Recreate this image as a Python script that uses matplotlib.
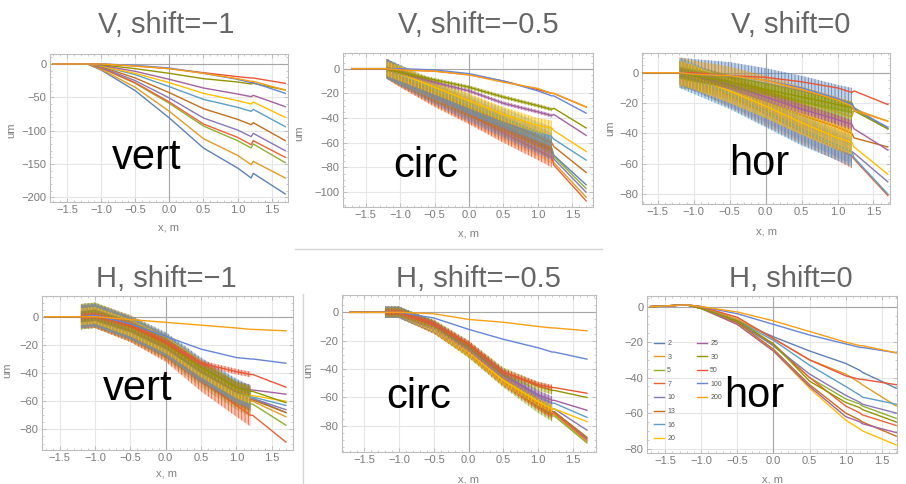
import numpy as np
import matplotlib
matplotlib.use("Agg")
import matplotlib.pyplot as plt
from matplotlib.ticker import MultipleLocator
from matplotlib.lines import Line2D
from matplotlib.colors import to_rgba

plt.rcParams['font.family'] = ['Liberation Sans', 'DejaVu Sans']
plt.rcParams['hatch.linewidth'] = 0.6

# ---------------- data ----------------
x_knots = [-1.7, -1.2, -1.0, -0.5, 0.0, 0.5, 1.0, 1.2, 1.23, 1.7]
n_labels = ['2', '3', '5', '7', '10', '13', '16', '20', '25', '30', '50', '100', '200']
colors = ['#5E81B5', '#E19C24', '#8FB032', '#EB6235', '#8778B3', '#C56E1A', '#5D9EC7',
          '#FFBF00', '#A5609D', '#929600', '#E95536', '#6685D9', '#F89F13']

# V, shift=-1
v_m1 = [
    [0, 0, -9, -40, -81, -126, -156, -171, -164, -195],
    [0, 0, -8, -35, -71, -112, -137, -151, -146, -171],
    [0, 0, -6, -29, -59, -93, -115, -126, -120, -148],
    [0, 0, -6, -28, -57, -90, -110, -121, -115, -140],
    [0, 0, -5, -25, -51, -81, -99, -109, -104, -130],
    [0, 0, -4, -21, -43, -67, -83, -91, -88, -115],
    [0, 0, -3, -16, -34, -53, -65, -71, -68, -94],
    [0, 0, -3, -14, -28, -44, -55, -60, -57, -80],
    [0, 0, -2, -11, -23, -36, -45, -49, -47, -64],
    [0, 0, -1, -7, -14, -22, -27, -30, -29, -39],
    [0, 0, 0, -3, -7, -13, -19, -21, -21, -29],
    [0, 0, 0, -2, -6, -14, -23, -28, -28, -44],
    [0, 0, 0, -3, -7, -14, -22, -26, -26, -39],
]
v_m1_ripple = [0, 0, 0, 0, 0, 0, 0, 0, 0, 0, 0, 0, 0]

# V, shift=-0.5
v_m05 = [
    [0, 0, -6, -20, -33, -46, -59, -64, -70, -94],
    [0, 0, -7, -22, -36, -50, -63, -69, -76, -104],
    [0, 0, -6, -20, -33, -47, -60, -65, -71, -97],
    [0, 0, -7, -23, -37, -52, -66, -72, -78, -107],
    [0, 0, -6, -21, -35, -48, -61, -66, -73, -100],
    [0, 0, -5, -19, -31, -43, -55, -60, -63, -84],
    [0, 0, -5, -17, -29, -40, -51, -55, -57, -74],
    [0, 0, -4, -15, -26, -37, -46, -48, -50, -67],
    [0, 0, -3, -11, -18, -28, -35, -38, -37, -54],
    [0, 0, -3, -9, -15, -23, -30, -33, -32, -48],
    [0, 0, -1, -2, -5, -10, -17, -20, -20, -31],
    [0, 0, 0, -1, -4, -10, -18, -22, -22, -36],
    [0, 0, -1, -2, -5, -11, -16, -20, -20, -31],
]
v_m05_ripple = [8, 8, 8, 8, 8, 8, 8, 6, 1.5, 1.5, 0, 0, 0]

# V, shift=0
v_0 = [
    [0, 0, -1, -3, -7, -12, -18, -20, -23, -37],
    [0, 0, -2, -6, -12, -19, -26, -29, -24, -32],
    [0, 0, -2, -7, -13, -19, -24, -26, -25, -37],
    [0, 0, -4, -15, -27, -39, -50, -55, -57, -81],
    [0, 0, -4, -14, -25, -37, -48, -52, -53, -72],
    [0, 0, -3, -10, -19, -28, -36, -40, -43, -49],
    [0, 0, -4, -14, -26, -38, -48, -52, -56, -80],
    [0, 0, -3, -12, -22, -33, -43, -46, -49, -67],
    [0, 0, -2, -8, -16, -24, -31, -34, -37, -51],
    [0, 0, -2, -6, -11, -16, -21, -23, -25, -37],
    [0, 0, 0, -2, -3, -6, -10, -13, -12, -21],
    [0, 0, -1, -2, -5, -10, -17, -21, -24, -36],
    [0, 0, -1, -2, -5, -11, -18, -22, -25, -32],
]
v_0_ripple = [10, 10, 6, 8, 8, 8, 10, 8, 3, 4, 0, 0, 0]

# H, shift=-1
h_m1 = [
    [0, 0, 1, -8, -20, -38, -53, -58, -58, -68],
    [0, 0, 1, -8, -21, -39, -55, -60, -60, -71],
    [0, 0, 1, -9, -22, -41, -57, -62, -62, -77],
    [0, 0, 0, -10, -24, -45, -63, -70, -70, -89],
    [0, 0, 1, -8, -21, -39, -54, -58, -58, -66],
    [0, 0, 1, -8, -21, -39, -55, -59, -59, -68],
    [0, 0, 1, -8, -20, -38, -53, -57, -57, -63],
    [0, 0, 1, -8, -20, -37, -52, -56, -56, -60],
    [0, 0, 1, -7, -19, -36, -50, -52, -52, -55],
    [0, 0, 1, -7, -19, -36, -50, -53, -53, -61],
    [0, 0, 1, -6, -18, -33, -39, -41, -41, -50],
    [0, 0, 1, -5, -14, -23, -29, -30, -30, -33],
    [0, 0, 0, -2, -4, -6, -8, -9, -9, -10],
]
h_m1_ripple = [9, 9, 9, 8, 8, 8, 8, 6, 4, 4, 2, 0, 0]

# H, shift=-0.5
h_m05 = [
    [0, 0, 0, -10, -26, -46, -63, -70, -70, -89],
    [0, 0, 0, -11, -28, -48, -65, -72, -72, -91],
    [0, 0, 0, -11, -28, -49, -67, -73, -73, -92],
    [0, 0, 0, -11, -27, -48, -65, -71, -71, -90],
    [0, 0, 0, -10, -26, -46, -62, -68, -68, -83],
    [0, 0, 0, -10, -27, -47, -64, -70, -70, -88],
    [0, 0, 0, -10, -25, -44, -59, -64, -64, -74],
    [0, 0, 0, -11, -28, -48, -63, -68, -68, -77],
    [0, 0, 0, -9, -25, -44, -58, -62, -62, -69],
    [0, 0, 0, -8, -23, -42, -52, -55, -55, -60],
    [0, 0, 0, -8, -22, -42, -51, -53, -53, -57],
    [0, 0, 0, -4, -12, -19, -25, -28, -28, -33],
    [0, 0, 0, -1, -5, -7, -10, -11, -11, -13],
]
h_m05_ripple = [4, 4, 4, 4, 4, 4, 4, 3, 3, 3, 2, 0, 0]

# H, shift=0
h_0 = [
    [0, 1, 0, -8, -17, -25, -32, -36, -37, -46],
    [0, 1, 0, -7, -18, -30, -38, -43, -44, -56],
    [0, 1, -1, -8, -22, -40, -52, -55, -56, -63],
    [0, 1, -1, -8, -21, -40, -56, -60, -61, -67],
    [0, 1, -1, -9, -22, -38, -50, -54, -55, -60],
    [0, 1, -1, -9, -24, -44, -60, -64, -65, -73],
    [0, 1, -1, -8, -19, -33, -45, -50, -51, -55],
    [0, 1, -1, -10, -25, -46, -64, -69, -70, -78],
    [0, 1, -1, -10, -25, -45, -62, -65, -66, -71],
    [0, 1, -1, -8, -21, -42, -54, -57, -58, -65],
    [0, 1, 0, -6, -18, -30, -39, -41, -41, -44],
    [0, 1, 0, -4, -10, -16, -21, -23, -23, -26],
    [0, 1, 0, -3, -8, -14, -20, -22, -22, -26],
]
h_0_ripple = [0] * 13

# ---------------- figure ----------------
W, H = 906, 484
fig = plt.figure(figsize=(W / 100, H / 100), dpi=100)


def px_axes(l, t, r, b):
    return fig.add_axes([l / W, 1 - b / H, (r - l) / W, (b - t) / H])


def ftext(x, y, s, **kw):
    return fig.text(x / W, 1 - y / H, s, **kw)


panels = [
    # data, ripple, frame (l, t, r, b), xlim, ylim, ymajor, yminor
    (v_m1, v_m1_ripple, (50, 54, 288, 202), (-1.75, 1.74), (-207, 15), 50, 10),
    (v_m05, v_m05_ripple, (343, 53, 593, 207), (-1.83, 1.80), (-112, 12.7), 20, 5),
    (v_0, v_0_ripple, (642, 53, 890, 204), (-1.72, 1.73), (-86.6, 13), 20, 5),
    (h_m1, h_m1_ripple, (42, 296, 293, 450), (-1.75, 1.80), (-94.6, 14.7), 20, 5),
    (h_m05, h_m05_ripple, (342, 295, 596, 452), (-1.82, 1.83), (-98.4, 12.2), 20, 5),
    (h_0, h_0_ripple, (647, 296, 897, 453), (-1.75, 1.71), (-82.5, 6), 20, 5),
]

axes = []
for data, ripple, frame, xl, yl, ymaj, ymin in panels:
    ax = px_axes(*frame)
    xs_band = x_knots[1:8]
    for i, (row, amp) in enumerate(zip(data, ripple)):
        c = colors[i]
        if amp > 0:
            yb = np.array(row[1:8], dtype=float)
            ax.fill_between(xs_band, yb - amp, yb + amp, facecolor=to_rgba(c, 0.35),
                            edgecolor=c, hatch='|||||', linewidth=0, zorder=2 + i * 0.1)
        ax.plot(x_knots, row, color=c, lw=1.0, zorder=2.05 + i * 0.1)
    ax.axhline(0, color='#a6a6a6', lw=0.8, zorder=1.5)
    ax.axvline(0, color='#a6a6a6', lw=0.8, zorder=1.5)
    ax.set_xlim(*xl)
    ax.set_xticks([-1.5, -1.0, -0.5, 0.0, 0.5, 1.0, 1.5])
    ax.xaxis.set_minor_locator(MultipleLocator(0.1))
    ax.yaxis.set_major_locator(MultipleLocator(ymaj))
    ax.yaxis.set_minor_locator(MultipleLocator(ymin))
    ax.set_ylim(*yl)
    ax.grid(which='major', color='#e6e6e6', lw=0.8)
    ax.set_axisbelow(True)
    ax.tick_params(which='both', direction='in', top=True, right=True,
                   colors='#b5b5b5', labelcolor='#7a7a7a', labelsize=8)
    ax.tick_params(which='major', length=3, width=0.6, pad=2.5)
    ax.tick_params(which='minor', length=1.5, width=0.5)
    for sp in ax.spines.values():
        sp.set_color('#bdbdbd')
        sp.set_linewidth(0.8)
    axes.append(ax)

# legend in last panel, two columns of 8 and 5 entries
handles = [Line2D([], [], color=c, lw=1.0) for c in colors]
leg_kw = dict(loc='upper left', bbox_transform=fig.transFigure, frameon=False, fontsize=5,
              handlelength=1.4, handletextpad=0.5, labelspacing=0.95, borderpad=0,
              borderaxespad=0, labelcolor='#555555')
leg1 = axes[5].legend(handles[:8], n_labels[:8], bbox_to_anchor=(654 / W, 1 - 340 / H), **leg_kw)
axes[5].add_artist(leg1)
axes[5].legend(handles[8:], n_labels[8:], bbox_to_anchor=(697 / W, 1 - 340 / H), **leg_kw)

# titles
title_kw = dict(ha='center', va='baseline', fontsize=21, color='#666666')
ftext(166, 33, 'V, shift=\u22121', **title_kw)
ftext(478, 33, 'V, shift=\u22120.5', **title_kw)
ftext(791, 33, 'V, shift=0', **title_kw)
ftext(166, 287, 'H, shift=\u22121', **title_kw)
ftext(478, 287, 'H, shift=\u22120.5', **title_kw)
ftext(791, 287, 'H, shift=0', **title_kw)

# axis labels
lab_kw = dict(ha='center', va='center', fontsize=8, color='#808080')
for x, y in [(169, 228), (469, 233), (766, 232), (166, 473), (468, 479), (773, 479)]:
    ftext(x, y, 'x, m', **lab_kw)
for x, y in [(11, 130), (299, 133), (610, 128), (7, 370), (308, 370)]:
    ftext(x, y, 'um', rotation=90, **lab_kw)

# big labels
big_kw = dict(ha='center', va='baseline', fontsize=30, color='black')
ftext(147, 169, 'vert', **big_kw)
ftext(426, 177, 'circ', **big_kw)
ftext(759, 175, 'hor', **big_kw)
ftext(138, 400, 'vert', **big_kw)
ftext(419, 408, 'circ', **big_kw)
ftext(754, 407, 'hor', **big_kw)

# separator lines
fig.add_artist(Line2D([295 / W, 602 / W], [1 - 249 / H, 1 - 249 / H], color='#d4d4d4', lw=1))
fig.add_artist(Line2D([303 / W, 303 / W], [1 - 294 / H, 0], color='#d4d4d4', lw=1))

fig.savefig('out.png', dpi=100)
